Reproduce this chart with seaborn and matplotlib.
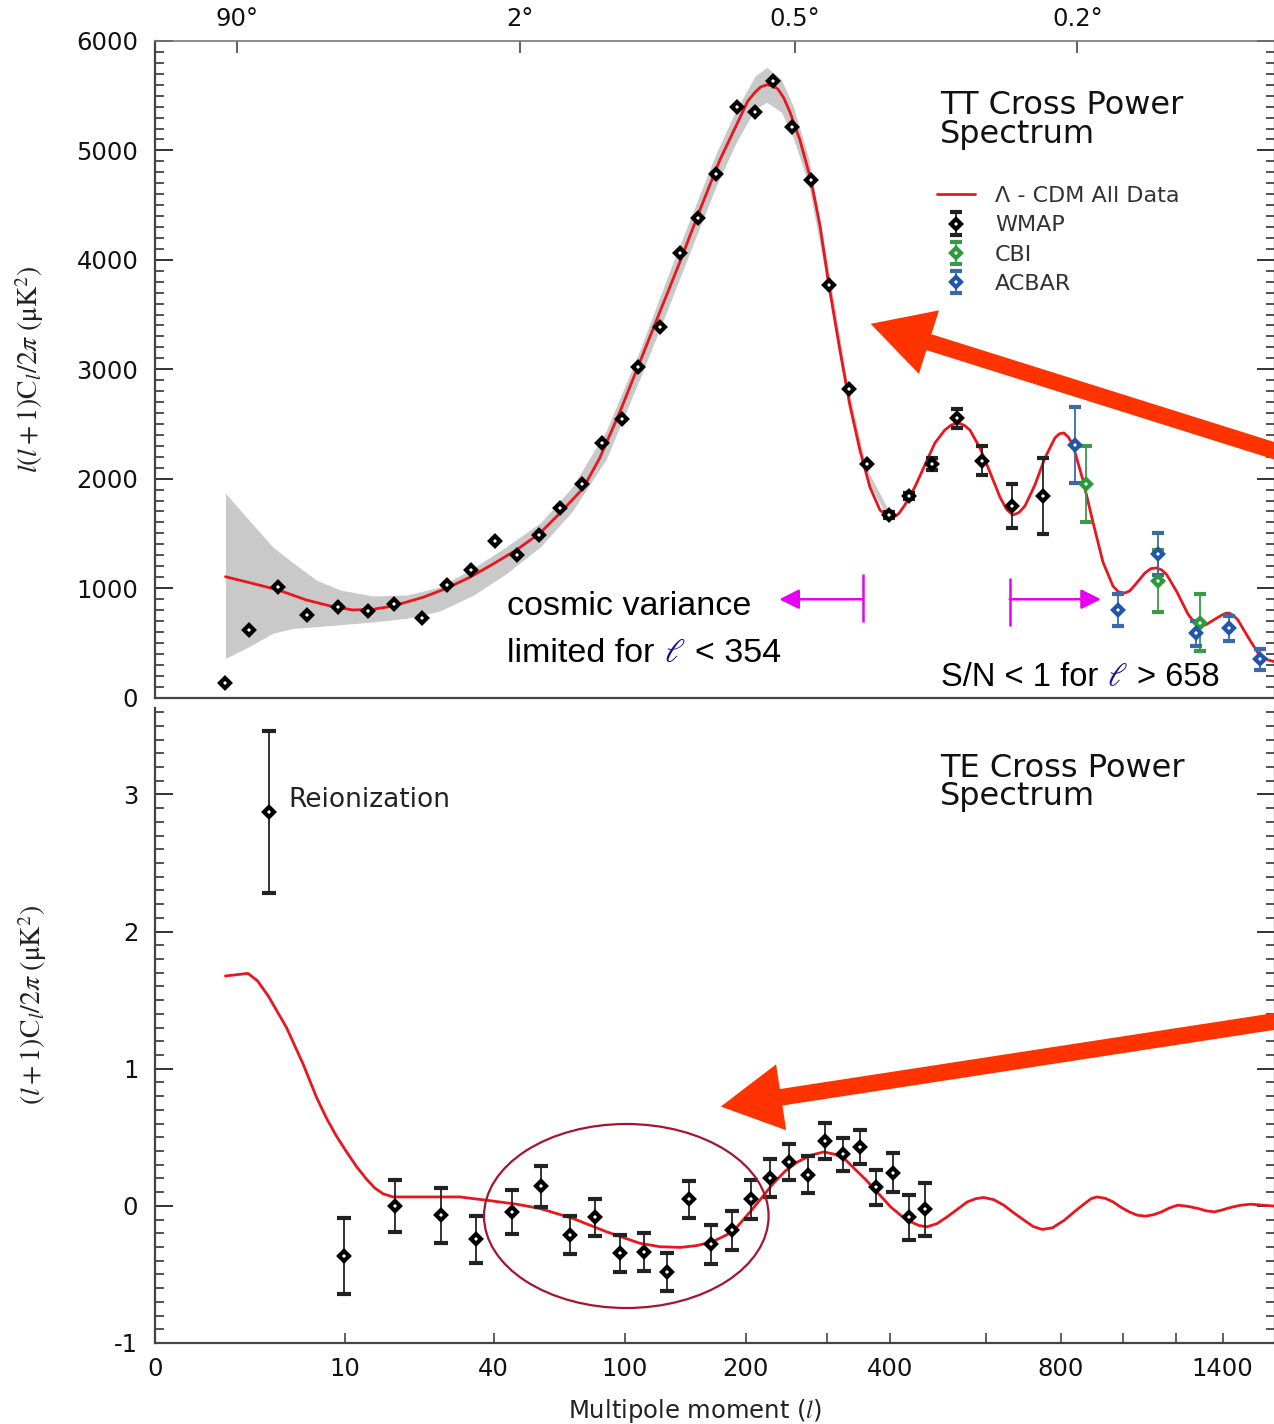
import numpy as np
import matplotlib
matplotlib.use("Agg")
import matplotlib.pyplot as plt
from matplotlib.ticker import MultipleLocator, NullLocator
from matplotlib.patches import Ellipse, FancyArrowPatch
from matplotlib.lines import Line2D
import seaborn as sns

# ---------------- TT spectrum ----------------
tt_model_l = [2, 2.94, 4.41, 6.38, 8.77, 10.96, 13.55, 16.56, 22.0, 27.1,
              33.0, 39.8, 47.6, 56.6, 65.2, 76.4, 85.3, 97.0, 109.8, 123.8,
              139.2, 155.9, 174.1, 193.8, 202.0, 209.7, 216.0, 223.1, 230.0, 236.0,
              243.0, 250.5, 263.2, 277.7, 290.0, 302.7, 318.8, 333.9, 349.7, 365.9,
              382.8, 393.0, 405.5, 416.0, 427.4, 446.3, 465.8, 485.9, 506.7, 520.0,
              534.7, 548.0, 561.6, 584.8, 608.6, 633.2, 650.0, 666.3, 682.0, 698.0,
              725.2, 753.2, 782.1, 795.0, 808.7, 822.0, 836.0, 867.2, 899.2, 932.1,
              965.9, 985.0, 1007.7, 1025.0, 1043.5, 1080.3, 1103.0, 1125.7, 1145.0, 1164.6,
              1204.6, 1249.6, 1275.0, 1300.3, 1326.0, 1352.4, 1397.1, 1413.0, 1429.0, 1450.0,
              1470.7, 1518.3, 1567.0, 1616.8, 1657.5]
tt_model_v = [1104, 1049, 983, 891, 830, 800, 806, 836, 916, 998,
              1099, 1220, 1348, 1501, 1684, 1912, 2190, 2610, 3066, 3523,
              3980, 4456, 4913, 5297, 5450, 5530, 5580, 5600, 5590, 5560,
              5480, 5352, 5096, 4730, 4319, 3770, 3176, 2674, 2262, 1924,
              1714, 1665, 1641, 1680, 1760, 1924, 2125, 2326, 2445, 2490,
              2509, 2490, 2445, 2281, 2061, 1833, 1720, 1668, 1690, 1750,
              1942, 2189, 2372, 2410, 2418, 2380, 2308, 1988, 1604, 1239,
              1019, 965, 955, 975, 1028, 1138, 1178, 1184, 1165, 1120,
              964, 763, 690, 654, 665, 699, 754, 768, 772, 750,
              708, 553, 407, 343, 324]

# cosmic-variance band around the model
band_l = [2, 2.9, 4.1, 5.4, 7.2, 9.5, 13.5, 19, 25.5, 34, 44, 57, 71, 89,
          110, 130, 150, 170, 190, 210, 223, 240, 255, 275, 300, 330, 360, 400]
band_lo = [358, 464, 587, 632, 647, 665, 690, 725, 790, 935, 1130, 1380, 1700, 2180,
           2920, 3560, 4140, 4660, 5070, 5380, 5440, 5350, 5110, 4680, 3800, 2720, 2000, 1615]
band_hi = [1867, 1622, 1376, 1229, 1074, 983, 928, 937, 1010, 1184, 1376, 1600, 1924, 2440,
           3180, 3860, 4440, 4960, 5370, 5680, 5760, 5650, 5400, 4920, 4000, 2880, 2100, 1690]

wmap_tt_l = [2, 2.9, 4.4, 6.4, 9.3, 12.8, 16.7, 21.7, 27.1, 33.3,
             40.3, 47.9, 56.2, 65.2, 75.9, 86.3, 98.4, 108.6, 123.8, 139.1,
             154.1, 170.3, 190.7, 209.7, 230.0, 253.0, 277.7, 302.7, 332.4, 360.5,
             398.9, 435.4, 479.2, 531.9, 588.8, 662.9, 748.4]
wmap_tt_v = [130, 617, 1007, 754, 824, 793, 852, 724, 1028, 1165,
             1431, 1302, 1485, 1729, 1949, 2329, 2543, 3024, 3387, 4063,
             4383, 4785, 5398, 5352, 5635, 5215, 4730, 3770, 2820, 2134,
             1668, 1842, 2134, 2552, 2162, 1750, 1842]
wmap_tt_err = [0, 0, 0, 0, 0, 0, 0, 0, 0, 0,
               0, 0, 0, 0, 0, 0, 0, 0, 0, 0,
               0, 0, 0, 0, 0, 0, 0, 0, 0, 0,
               25, 30, 55, 85, 133, 200, 346]

cbi_l = [875.8, 1130.7, 1300.0]
cbi_v = [1951, 1065, 684]
cbi_err = [346, 280, 260]

acbar_l = [842.2, 984.2, 1130.7, 1283.3, 1429.0, 1576.9]
acbar_v = [2308, 800, 1312, 587, 632, 349]
acbar_err = [350, 150, 190, 114, 117, 96]

cv_limit = 354   # cosmic variance limited below this multipole
sn_limit = 658   # signal-to-noise below one above this multipole

# ---------------- TE spectrum ----------------
te_model_l = [2, 2.86, 3.3, 3.84, 4.93, 6.11, 7.21, 8.12, 9.1, 10.2, 11.4,
              12.65, 13.8, 15.0, 16.56, 30.3, 37.8, 47.7, 56.6, 71.4, 89.1,
              109.8, 124.0, 139.5, 153.0, 167.3, 186.7, 207.7, 230.4, 245.0, 260.2,
              278.0, 295.6, 312.0, 328.1, 360.0, 401.4, 420.0, 438.4, 454.0, 469.9,
              490.0, 511.6, 555.9, 575.0, 593.5, 618.0, 643.0, 668.0, 695.5, 720.0,
              745.6, 775.0, 810.5, 842.0, 872.9, 893.0, 912.0, 940.0, 966.3, 995.0,
              1023.0, 1052.0, 1082.0, 1112.0, 1143.5, 1175.0, 1207.8, 1250.0, 1291.8, 1327.0,
              1362.1, 1398.0, 1435.4, 1482.0, 1530.9, 1590.0, 1650.0]
te_model_v = [1.676, 1.695, 1.640, 1.532, 1.302, 1.036, 0.793, 0.640, 0.510, 0.395, 0.285,
              0.195, 0.130, 0.088, 0.065, 0.065, 0.041, 0.012, -0.019, -0.092, -0.189,
              -0.273, -0.298, -0.303, -0.290, -0.262, -0.189, -0.019, 0.163, 0.255, 0.320,
              0.370, 0.393, 0.375, 0.332, 0.187, -0.007, -0.070, -0.116, -0.143, -0.153,
              -0.130, -0.080, 0.029, 0.052, 0.061, 0.045, 0.005, -0.050, -0.104, -0.150,
              -0.172, -0.160, -0.104, -0.040, 0.017, 0.052, 0.065, 0.055, 0.029, -0.012,
              -0.044, -0.068, -0.075, -0.065, -0.044, -0.015, 0.005, -0.004, -0.019, -0.036,
              -0.044, -0.030, -0.012, 0.004, 0.012, 0.005, -0.002]

te_l = [3.9, 9.9, 16.8, 25.8, 34.8, 45.9, 56.9, 69.8, 82.9, 97.0,
        112.5, 129.4, 146.7, 165.9, 185.9, 205.6, 226.7, 250.0, 273.4, 297.2,
        323.9, 350.3, 377.0, 406.4, 434.7, 466.0]
te_v = [2.873, -0.366, 0.0, -0.068, -0.245, -0.048, 0.143, -0.213, -0.084, -0.346,
        -0.335, -0.48, 0.047, -0.281, -0.177, 0.047, 0.204, 0.32, 0.228, 0.473,
        0.376, 0.429, 0.134, 0.243, -0.084, -0.026]
te_err = [0.59, 0.275, 0.19, 0.2, 0.172, 0.16, 0.148, 0.138, 0.135, 0.137,
          0.137, 0.138, 0.135, 0.14, 0.143, 0.143, 0.138, 0.134, 0.136, 0.131,
          0.119, 0.121, 0.128, 0.14, 0.166, 0.194]

# ---------------- axis labelling ----------------
angle_l = [2.4, 49, 257, 850]
angle_labels = ["90°", "2°", "0.5°", "0.2°"]
mult_ticks = [0.5, 10, 40, 100, 200, 400, 800, 1400]
mult_labels = ["0", "10", "40", "100", "200", "400", "800", "1400"]
mult_minor = [300, 600, 1000, 1200]

RED = "#e8161e"
MAG = "#e800f0"
ARROW = "#ff3300"

sns.set_theme(style="ticks")
plt.rcParams["font.family"] = ["DejaVu Sans"]
plt.rcParams["mathtext.fontset"] = "stix"
plt.rcParams["axes.unicode_minus"] = False

W, H = 1274, 1424
fig = plt.figure(figsize=(W / 100, H / 100), dpi=100)
fig.patch.set_facecolor("white")


def fx(px):
    return px / W


def fy(py):
    return 1 - py / H


ax1 = fig.add_axes([fx(155), fy(697.5), fx(1274.5) - fx(155), fy(41) - fy(697.5)])
ax2 = fig.add_axes([fx(155), fy(1343), fx(1274.5) - fx(155), fy(708) - fy(1343)])


def fwd(l):
    return np.power(np.clip(l, 1e-9, None), 0.25)


def inv(u):
    return np.power(u, 4)


for ax in (ax1, ax2):
    ax.set_facecolor("white")
    ax.set_xscale("function", functions=(fwd, inv))
    ax.set_xlim(0.5, 1650)
    for side in ("left", "right", "bottom"):
        ax.spines[side].set_color("#444")
        ax.spines[side].set_linewidth(1.6)
    ax.tick_params(axis="y", which="both", direction="in", left=True, right=True,
                   color="#333", labelcolor="#111", labelsize=17.5, pad=12)
    ax.tick_params(axis="y", which="major", length=13, width=1.4)
    ax.tick_params(axis="y", which="minor", length=6.5, width=1.2)

# ---- TT panel ----
ax1.fill_between(band_l, band_lo, band_hi, color="#c9c9c9", lw=0, zorder=1)
sns.lineplot(x=tt_model_l, y=tt_model_v, ax=ax1, color=RED, linewidth=2.0,
             sort=False, estimator=None, zorder=3, legend=False)


def nan_zero(err):
    e = np.asarray(err, dtype=float)
    return np.where(e > 0, e, np.nan)


mk = dict(fmt="D", ms=5, mfc="white", mew=3.0, elinewidth=1.3, capthick=1.3, zorder=4)
eb_wmap = ax1.errorbar(wmap_tt_l, wmap_tt_v, yerr=nan_zero(wmap_tt_err), mec="black",
                       ecolor="#222", capsize=4, **mk)
eb_cbi = ax1.errorbar(cbi_l, cbi_v, yerr=cbi_err, mec="#2a9a3a", ecolor="#3a9a4a",
                      capsize=4.5, **mk)
eb_acbar = ax1.errorbar(acbar_l, acbar_v, yerr=acbar_err, mec="#2256a8", ecolor="#3a6aa8",
                        capsize=4.5, **mk)

ax1.set_ylim(0, 6000)
ax1.yaxis.set_major_locator(MultipleLocator(1000))
ax1.yaxis.set_minor_locator(MultipleLocator(100))
ax1.xaxis.set_ticks_position("top")
ax1.set_xticks(angle_l)
ax1.set_xticklabels(angle_labels)
ax1.xaxis.set_minor_locator(NullLocator())
ax1.tick_params(axis="x", which="major", direction="in", length=8.5, width=1.2,
                top=True, bottom=False, labeltop=True, labelbottom=False,
                color="#444", labelcolor="#111", labelsize=17.5, pad=7)
ax1.spines["top"].set_color("#777")
ax1.spines["top"].set_linewidth(1.2)
ax1.set_ylabel(r"$l(l+1)\mathrm{C}_l/2\pi\ (\mathrm{\mu K}^2)$", fontsize=20, color="#222")
ax1.yaxis.set_label_coords(-0.097, 0.5)

# cosmic variance / signal-to-noise markers
y_arrow = 898
ax1.vlines([cv_limit], 693, 1129, color=MAG, lw=1.8, zorder=5)
ax1.vlines([sn_limit], 656, 1092, color=MAG, lw=1.8, zorder=5)
ax1.annotate("", xy=(237.6, y_arrow), xytext=(cv_limit, y_arrow),
             arrowprops=dict(arrowstyle="-|>,head_length=0.6,head_width=0.3", color=MAG,
                             lw=1.8, mutation_scale=20, shrinkA=0, shrinkB=0))
ax1.annotate("", xy=(925.5, y_arrow), xytext=(sn_limit, y_arrow),
             arrowprops=dict(arrowstyle="-|>,head_length=0.6,head_width=0.3", color=MAG,
                             lw=1.8, mutation_scale=20, shrinkA=0, shrinkB=0))

model_handle = Line2D([], [], color=RED, lw=2.0)
ax1.legend(handles=[model_handle, eb_wmap, eb_cbi, eb_acbar],
           labels=["Λ - CDM All Data", "WMAP", "CBI", "ACBAR"],
           loc="upper left", bbox_to_anchor=(fx(937), fy(186)), bbox_transform=fig.transFigure,
           frameon=False, fontsize=16, labelcolor="#333", handlelength=1.7,
           handletextpad=0.9, labelspacing=0.42, borderpad=0, borderaxespad=0)

# ---- TE panel ----
sns.lineplot(x=te_model_l, y=te_model_v, ax=ax2, color=RED, linewidth=2.0,
             sort=False, estimator=None, zorder=3, legend=False)
ax2.errorbar(te_l, te_v, yerr=te_err, fmt="D", ms=5.5, mfc="white", mec="black", mew=3.0,
             ecolor="#222", elinewidth=1.3, capsize=4.8, capthick=1.3, zorder=4)
ax2.set_ylim(-1, 3.63)
ax2.yaxis.set_major_locator(MultipleLocator(1))
ax2.yaxis.set_minor_locator(MultipleLocator(0.1))
ax2.spines["top"].set_visible(False)
ax2.set_xticks(mult_ticks)
ax2.set_xticklabels(mult_labels)
ax2.set_xticks(mult_minor, minor=True)
ax2.tick_params(axis="x", which="both", direction="in", length=7, width=1.2,
                top=False, bottom=True, color="#444", labelcolor="#111",
                labelsize=17.5, pad=10)
ax2.set_ylabel(r"$(l+1)\mathrm{C}_l/2\pi\ (\mathrm{\mu K}^2)$", fontsize=20, color="#222")
ax2.yaxis.set_label_coords(-0.095, 0.532)
ax2.set_xlabel("Multipole moment ($l$)", fontsize=17.5, color="#222")
ax2.xaxis.set_label_coords((695 - 155) / 1120, -0.085)

# ---- panel titles and notes ----
title_kw = dict(fontsize=23, color="#111", va="baseline", ha="left")
fig.text(fx(940), fy(114), "TT Cross Power", **title_kw)
fig.text(fx(940), fy(143), "Spectrum", **title_kw)
fig.text(fx(940), fy(777), "TE Cross Power", **title_kw)
fig.text(fx(940), fy(805), "Spectrum", **title_kw)
fig.text(fx(288), fy(807), "Reionization", fontsize=19, color="#222", va="baseline")

renderer = fig.canvas.get_renderer()


def text_run(x_px, y_px, parts, size):
    x = x_px
    for s, color in parts:
        t = fig.text(fx(x), fy(y_px), s, fontsize=size, color=color,
                     family=["Liberation Sans", "DejaVu Sans"], va="baseline", ha="left")
        bb = t.get_window_extent(renderer)
        x = bb.x1 + 0.278 * size * 100 / 72


note_size = 24.5
fig.text(fx(507), fy(615), "cosmic variance", fontsize=note_size, color="black",
         family=["Liberation Sans", "DejaVu Sans"], va="baseline")
text_run(507, 662, [("limited for", "black"), (r"$\ell$", "#12128c"),
                    (f"< {cv_limit}", "black")], note_size)
text_run(941, 686, [("S/N < 1 for", "black"), (r"$\ell$", "#12128c"),
                    (f"> {sn_limit}", "black")], 23.5)

# ---- overlay callouts ----
def px_in(x, y):
    return (x / 100, (H - y) / 100)


for tail, tip in [((1310, 462), (868, 323)), ((1310, 1016), (718, 1107))]:
    fig.add_artist(FancyArrowPatch(px_in(*tail), px_in(*tip), transform=fig.dpi_scale_trans,
                                   arrowstyle="simple,head_length=1.1,head_width=1.2,tail_width=0.3",
                                   mutation_scale=40, fc=ARROW, ec="none", zorder=10))

fig.add_artist(Ellipse(px_in(626.3, 1216), 284.6 / 100, 184 / 100,
                       transform=fig.dpi_scale_trans, fill=False, ec="#a3162e", lw=1.6, zorder=10))

fig.savefig("out.png", dpi=100)
